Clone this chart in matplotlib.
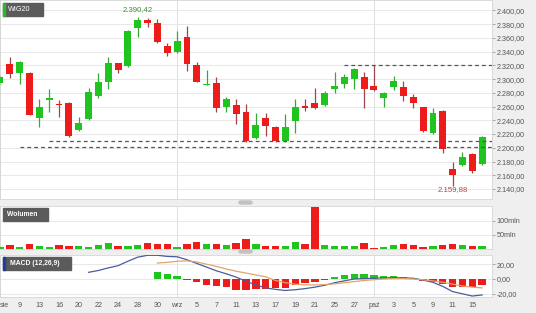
import matplotlib.pyplot as plt
import matplotlib.patches as mpatches
import numpy as np

plt.rcParams['font.family'] = ['Liberation Sans', 'DejaVu Sans']

# etykiety osi x (co druga sesja)
date_labels = ["sie", "9", "13", "16", "20", "22", "24", "28", "30", "wrz", "5", "7", "11",
               "13", "17", "19", "21", "25", "27", "paź", "3", "5", "9", "11", "15"]

# notowania WIG20 (sesje od lewej)
opens = [2294, 2322, 2309, 2309, 2243, 2269.5, 2263, 2265, 2226, 2242,
         2275, 2296, 2323, 2319, 2374, 2386, 2381, 2348, 2339, 2361,
         2320, 2292, 2294, 2259, 2262, 2252, 2214, 2243, 2230, 2210,
         2239, 2261, 2265, 2262, 2285.5, 2293, 2300, 2303, 2290, 2272,
         2288, 2288, 2274, 2259, 2221, 2253, 2169, 2175, 2191, 2176]
highs = [2306, 2332, 2326, 2310, 2271, 2285.5, 2270, 2266, 2245, 2287,
         2309, 2332, 2324, 2372, 2390.42, 2389, 2387, 2352, 2370, 2377,
         2325, 2313, 2303, 2274, 2271, 2264, 2251, 2251, 2232, 2249,
         2271, 2271, 2287, 2283, 2310, 2307, 2316, 2310, 2320, 2281,
         2304, 2297, 2278, 2260, 2258, 2255, 2179, 2194, 2193, 2217]
lows = [2291, 2301, 2293, 2247, 2230, 2252, 2245, 2216, 2225, 2241,
        2272, 2285, 2309, 2318, 2361, 2376, 2353, 2333, 2338, 2312,
        2295, 2291.5, 2252, 2252, 2235, 2209, 2213, 2217, 2209, 2209,
        2221, 2253, 2257, 2261, 2280, 2287, 2285, 2258, 2283, 2259,
        2284, 2268, 2258, 2223, 2220, 2192, 2145, 2174, 2163, 2175]
closes = [2303, 2307, 2325, 2248, 2259, 2272.5, 2262, 2217, 2236, 2281,
          2296, 2323, 2313, 2370, 2386, 2381, 2354, 2338, 2355, 2322,
          2296, 2293, 2258, 2271, 2249, 2210, 2233, 2232, 2210, 2230,
          2259, 2258, 2258, 2280, 2290, 2303, 2315, 2285, 2284, 2280,
          2297, 2275, 2265, 2224, 2251, 2198, 2161, 2187, 2166, 2216]

# wolumen w mln
volume = [6, 14, 6, 19, 11, 6, 13, 11, 11, 8,
          14, 21, 10, 12, 14, 20, 19, 18, 8, 19,
          26, 17, 17, 13, 23, 35, 18, 10, 12, 11,
          25, 18, 150, 14, 11, 10, 12, 20, 5, 8,
          15, 19, 15, 8, 11, 14, 18, 15, 10, 10]

# MACD (12,26,9)
macd_line = [None] * 9 + [9, 11.5, 15, 18, 24, 29.5, 32, 32, 30.5, 30,
                          26, 21, 16, 11, 7, 2.5, -3, -8, -12, -14,
                          -15.5, -14.5, -13, -11, -8.5, -5, -2.5, 0, 0.5, 1,
                          1.5, 1.8, 1.5, 1, -1.5, -4.5, -10, -17, -20, -23, -21.5]
signal_line = [None] * 16 + [21.5, 22.5, 24, 24.5, 23, 20, 17, 13.5, 10.5, 8,
                             5.5, 3, -2, -5, -7, -8, -8, -7.5, -6.5, -5,
                             -3.5, -2, -1, 0, 0.5, 0.5, 0, -1, -2.5, -4.5,
                             -7, -9.5, -11, -12]
histogram = [None] * 16 + [9, 7.2, 3.6, -1, -3.6, -8.1, -9.5, -10.8, -14.4, -14.4,
                           -14, -14, -12.6, -11.7, -8.1, -5.9, -3.6, -1, 2.3, 5,
                           6.8, 6.3, 5.5, 4, 4, 2.5, 1, -2.7, -3.6, -6.8,
                           -10.4, -11.3, -11.3, -8.1]

# poziomy wsparcia / oporu: wartosc i sesja od ktorej rysowana linia
level_values = [2320, 2210, 2201]
level_start = [35, 5, 2]

max_label = "2.390,42"
min_label = "2.159,88"
month_start = [0, 18, 38]

GREEN = '#1fc41f'
RED = '#ee1b1b'
TXT = '#555555'
W, H = 536, 313


def pl_format(v):
    s = "{:,.2f}".format(v)
    return s.replace(",", " ").replace(".", ",").replace(" ", ".")


def style_axis(ax):
    ax.set_facecolor('white')
    for s in ax.spines.values():
        s.set_color('#d6d6d6')
        s.set_linewidth(0.6)
    ax.yaxis.tick_right()
    ax.tick_params(axis='y', direction='out', length=2, width=0.6, color='#999999',
                   labelsize=5.2, labelcolor=TXT, pad=1.5)
    ax.tick_params(axis='x', length=0)
    ax.grid(axis='y', color='#e8e8e8', linewidth=0.7)
    ax.set_axisbelow(True)
    for m in month_start:
        ax.axvline(m, color='#dedede', linewidth=0.7, zorder=0)
    ax.set_xlim(0, 50)


def fig_rect(fig, x, y, w, h, color, rounded=False):
    # prostokat w pikselach obrazka (od gornej krawedzi)
    if rounded:
        p = mpatches.FancyBboxPatch((x / W, 1 - (y + h) / H), w / W, h / H,
                                    boxstyle="round,pad=0,rounding_size=0.004",
                                    transform=fig.transFigure, color=color, zorder=10)
    else:
        p = mpatches.Rectangle((x / W, 1 - (y + h) / H), w / W, h / H,
                               transform=fig.transFigure, color=color, zorder=10)
    fig.patches.append(p)


x = np.arange(len(opens))
o = np.array(opens)
c = np.array(closes)
up = c >= o
colors = np.where(up, GREEN, RED)
wick_colors = np.where(up, '#33aa33', '#a04545')

fig = plt.figure(figsize=(W / 100, H / 100), dpi=100, facecolor='#efefef')
ax_p = fig.add_axes([0, 1 - 199 / H, 492 / W, 199 / H])
ax_v = fig.add_axes([0, 1 - 249 / H, 492 / W, 43 / H])
ax_m = fig.add_axes([0, 1 - 297 / H, 492 / W, 42 / H])

# --- wykres cenowy
style_axis(ax_p)
ax_p.vlines(x, lows, highs, colors=wick_colors, linewidth=0.9, zorder=2)
body = np.maximum(np.abs(c - o), 1.2)
ax_p.bar(x, body, bottom=np.minimum(o, c), width=0.7, color=colors, linewidth=0, zorder=3)
for val, start in zip(level_values, level_start):
    ax_p.hlines(val, start, 50, colors='#555555', linestyles=(0, (3, 2.5)), linewidth=0.9, zorder=4)
ax_p.set_ylim(2125.5, 2415)
yt = np.arange(2140, 2401, 20)
ax_p.set_yticks(yt)
ax_p.set_yticklabels([pl_format(v) for v in yt])
ax_p.set_xticks([])
i_max = int(np.argmax(highs))
i_min = int(np.argmin(lows))
ax_p.annotate(max_label, (i_max, highs[i_max]), xytext=(0, 2.5), textcoords='offset points',
              ha='center', va='bottom', fontsize=5.6, color='#3d8f3d')
ax_p.annotate(min_label, (i_min, lows[i_min]), xytext=(0, -0.5), textcoords='offset points',
              ha='center', va='top', fontsize=5.6, color='#b04848')

# --- wolumen
style_axis(ax_v)
ax_v.bar(x, volume, width=0.75, color=colors, linewidth=0, zorder=3)
ax_v.set_ylim(0, 153)
ax_v.set_yticks([50, 100])
ax_v.set_yticklabels(["50mln", "100mln"])
ax_v.set_xticks([])

# --- MACD
style_axis(ax_m)
hist = np.array([np.nan if v is None else v for v in histogram])
ax_m.bar(x, hist, width=0.75, color=np.where(hist >= 0, GREEN, RED), linewidth=0, zorder=3)
m_line = np.array([np.nan if v is None else v for v in macd_line])
s_line = np.array([np.nan if v is None else v for v in signal_line])
ax_m.plot(x, m_line, color='#4a5c9e', linewidth=0.9, zorder=4)
ax_m.plot(x, s_line, color='#e3a46a', linewidth=0.9, zorder=4)
ax_m.set_ylim(-24.3, 32.4)
ax_m.set_yticks([-20, 0, 20])
ax_m.set_yticklabels([pl_format(v) for v in [-20, 0, 20]])
ax_m.set_xticks(x[::2])
ax_m.set_xticklabels(date_labels)
ax_m.tick_params(axis='x', labelsize=5.2, labelcolor=TXT, pad=3.5)
# pierwsza etykieta przy samej krawedzi
ax_m.get_xticklabels()[0].set_ha('left')

# etykiety paneli
fig_rect(fig, 3, 3, 40, 13, '#5b5b5b')
fig_rect(fig, 3, 3, 2, 13, '#2fb52f')
fig.text(8 / W, 1 - 9.5 / H, "WIG20", color='white', fontsize=5.2, va='center', zorder=11)
fig_rect(fig, 3, 208, 45, 13, '#5b5b5b')
fig.text(7 / W, 1 - 214.5 / H, "Wolumen", color='white', fontsize=4.9, fontweight='bold',
         va='center', zorder=11)
fig_rect(fig, 3, 257, 68, 13, '#5b5b5b')
fig_rect(fig, 3, 257, 2, 13, '#1f3f9a')
fig.text(10 / W, 1 - 263.5 / H, "MACD (12,26,9)", color='white', fontsize=4.9, fontweight='bold',
         va='center', zorder=11)

# uchwyty miedzy panelami
fig_rect(fig, 239, 201, 13, 3, '#c2c2c2', rounded=True)
fig_rect(fig, 239, 250, 13, 3, '#c2c2c2', rounded=True)

fig.savefig("out.png", dpi=100, facecolor=fig.get_facecolor())
